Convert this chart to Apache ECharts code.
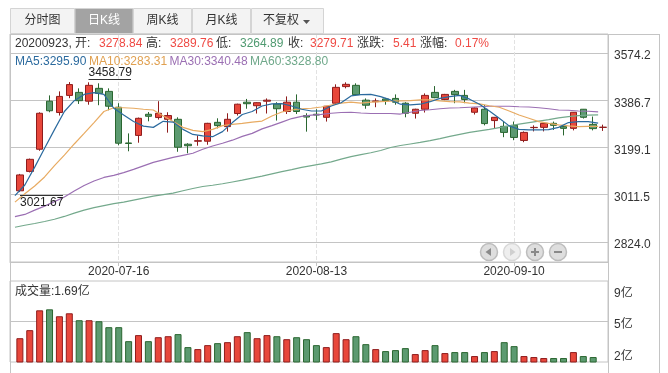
<!DOCTYPE html>
<html><head><meta charset="utf-8">
<style>html,body{margin:0;padding:0;background:#fff}#c{width:668px;height:373px}</style>
<script src="https://cdn.jsdelivr.net/npm/echarts@6/dist/echarts.min.js"></script>
</head><body><div id="c"></div>
<script>
const dates=['2020-07-02','2020-07-03','2020-07-06','2020-07-07','2020-07-08','2020-07-09','2020-07-10','2020-07-13','2020-07-14','2020-07-15','2020-07-16','2020-07-17','2020-07-20','2020-07-21','2020-07-22','2020-07-23','2020-07-24','2020-07-27','2020-07-28','2020-07-29','2020-07-30','2020-07-31','2020-08-03','2020-08-04','2020-08-05','2020-08-06','2020-08-07','2020-08-10','2020-08-11','2020-08-12','2020-08-13','2020-08-14','2020-08-17','2020-08-18','2020-08-19','2020-08-20','2020-08-21','2020-08-24','2020-08-25','2020-08-26','2020-08-27','2020-08-28','2020-08-31','2020-09-01','2020-09-02','2020-09-03','2020-09-04','2020-09-07','2020-09-08','2020-09-09','2020-09-10','2020-09-11','2020-09-14','2020-09-15','2020-09-16','2020-09-17','2020-09-18','2020-09-21','2020-09-22','2020-09-23'];
const open=[3027,3104,3192,3383,3338,3406,3418,3383,3434,3422,3359,3217,3247,3331,3318,3311,3311,3212,3224,3224,3299,3282,3334,3379,3365,3383,3372,3342,3379,3326,3331,3319,3375,3441,3446,3387,3381,3392,3394,3375,3335,3351,3418,3390,3422,3406,3339,3351,3306,3283,3287,3227,3278,3279,3295,3282,3275,3351,3291,3278.84];
const close=[3090,3152,3335,3345,3402,3449,3385,3446,3414,3363,3216,3215,3315,3323,3335,3326,3200,3206,3226,3295,3286,3311,3371,3373,3377,3387,3353,3379,3342,3320,3328,3363,3438,3450,3409,3367,3384,3385,3379,3335,3351,3406,3397,3410,3409,3390,3356,3294,3319,3259,3239,3259,3279,3295,3287,3275,3339,3319,3274,3279.71];
const low=[3021.67,3100,3186,3339,3326,3395,3372,3369,3367,3347,3208,3184,3218,3303,3310,3258,3182,3176,3206,3210,3275,3262,3326,3353,3334,3334,3306,3332,3332,3262,3308,3302,3372,3434,3406,3353,3359,3369,3369,3319,3314,3338,3395,3387,3375,3375,3330,3287,3274,3240,3228,3220,3263,3263,3269,3247,3267,3314,3267,3264.89];
const high=[3094,3155,3339,3406,3422,3458.79,3434,3458,3454,3434,3375,3255,3318,3340,3383,3339,3319,3216,3247,3297,3315,3335,3373,3392,3379,3394,3379,3402,3410,3335,3351,3364,3450,3458,3454,3394,3394,3396,3410,3379,3353,3414,3443,3412,3428,3428,3358,3368,3320,3302,3302,3263,3287,3298,3302,3287,3340,3352,3322,3289.76];
const ma5=[3008,3050,3121,3196,3270,3342,3385,3410,3417,3410,3355,3328,3302,3284,3279,3303,3300,3271,3251,3245,3242,3262,3298,3330,3342,3364,3372,3373,3364,3351,3344,3344,3364,3377,3404,3409,3410,3401,3388,3371,3368,3371,3381,3394,3401,3406,3391,3371,3344,3315,3285,3271,3269,3269,3270,3279,3298,3302,3302,3295.9];
const ma10=[2982,3015,3046,3082,3127,3169,3213,3255,3298,3342,3357,3357,3355,3351,3348,3324,3302,3279,3267,3262,3271,3286,3291,3295,3300,3304,3324,3340,3348,3353,3355,3360,3368,3375,3379,3375,3379,3381,3383,3384,3385,3388,3388,3384,3381,3380,3375,3372,3365,3359,3344,3328,3315,3302,3295,3289,3285,3282,3283,3283.31];
const ma30=[2924,2933,2950,2966,2984,3002,3026,3048,3066,3080,3088,3099,3112,3126,3140,3150,3160,3168,3176,3192,3205,3216,3228,3243,3255,3273,3286,3300,3314,3323,3328,3331,3335,3338,3339,3336,3334,3334,3334,3332,3339,3346,3349,3353,3356,3357,3359,3361,3363,3363,3363,3361,3360,3357,3353,3348,3347,3344,3343,3340.48];
const ma60=[2882,2890,2897,2905,2914,2925,2938,2950,2960,2968,2976,2982,2990,2998,3006,3012,3018,3027,3036,3044,3049,3055,3062,3069,3077,3085,3094,3103,3111,3120,3127,3134,3142,3153,3163,3171,3178,3187,3199,3207,3213,3219,3226,3234,3243,3251,3259,3265,3271,3278,3285,3292,3298,3304,3310,3317,3322,3326,3328,3328.8];
const volume=[3.81,4.54,6.34,6.43,5.80,6.07,5.44,5.44,5.35,4.81,4.81,3.54,4.09,3.54,3.90,3.99,4.18,3.00,2.82,3.18,3.36,3.45,3.99,4.36,3.81,4.09,3.99,3.72,3.90,3.72,3.18,3.00,4.27,3.72,3.99,3.27,2.82,2.64,2.73,2.91,2.37,2.73,3.18,2.46,2.55,2.55,2.19,2.55,2.64,3.45,3.09,2.19,2.10,2.01,2.01,2.01,2.55,2.19,2.10,1.69];
const priceTicks=[2824.0,3011.5,3199.1,3386.7,3574.2];
const volumeTicks=[1.65,5.325,9.0];
const dateTicks=[10,30,50];
const tabs=['分时图','日K线','周K线','月K线','不复权'];

const FONT='"Liberation Sans","Noto Sans CJK SC",sans-serif';
const RED='#e8473b',REDB='#8f1c1c',GRN='#5c9a70',GRNB='#2a6630';
const LINE='#c4c4c4',MA5='#2b6a9e',MA10='#e8ab62',MA30='#9b6fb3',MA60='#74a98c';
const XMIN=-1,XMAX=59.5;
const candle=dates.map((d,i)=>[i,open[i],close[i],low[i],high[i]]);
const pts=a=>a.map((v,i)=>[i,v]);
const lineSeries=(name,a,color)=>({name,type:'line',xAxisIndex:1,yAxisIndex:0,data:pts(a),symbol:'none',silent:true,z:5,lineStyle:{color,width:1.2}});
const T=(x,y,text,fill,extra)=>({type:'text',x,y,z:20,silent:true,style:Object.assign({text,fill:fill||'#333',font:'12px '+FONT,textVerticalAlign:'middle'},extra||{})});
const infoRow=[[15,'20200923, 开:','#333'],[99,'3278.84','#ef4a44'],[146,'高:','#333'],[170,'3289.76','#ef4a44'],[216,'低:','#333'],[240,'3264.89','#4f9a70'],[288,'收:','#333'],[310,'3279.71','#ef4a44'],[357,'涨跌:','#333'],[393,'5.41','#ef4a44'],[420,'涨幅:','#333'],[455,'0.17%','#ef4a44']];
const maRow=[[15,'MA5:3295.90','#2b6a9e'],[89,'MA10:3283.31','#e0a050'],[169.5,'MA30:3340.48','#9b6fb3'],[250,'MA60:3328.80','#6fa88a']];
const tabX=[[10.5,64],[75,58],[133.5,58],[192.5,58],[251.5,72]];
const btn=(cx,dim)=>({type:'circle',shape:{cx,cy:252,r:8.5},z:20,silent:true,style:{fill:dim?'#eeeeee':'#dedede',stroke:dim?'#d8d8d8':'#bdbdbd',lineWidth:1.5}});
const vline=(x,y1,y2)=>({type:'line',shape:{x1:x,y1,x2:x,y2},z:1,silent:true,style:{stroke:LINE,lineWidth:1}});
const glyph='#8a8a8a';
const graphic=[
 vline(10.5,34,373),vline(608.5,34,373),vline(659.5,34,373),
 {type:'line',shape:{x1:10,y1:34.5,x2:660,y2:34.5},z:1,silent:true,style:{stroke:LINE}},
 ...tabs.map((t,i)=>({type:'rect',shape:{x:tabX[i][0],y:8.5,width:tabX[i][1],height:25},z:18,silent:true,style:{fill:i==1?'#a3a3a3':'#f3f3f3',stroke:'#d4d4d4'}})),
 ...tabs.map((t,i)=>T(i==4?281:tabX[i][0]+tabX[i][1]/2,21,t,i==1?'#fff':'#333',{textAlign:'center'})),
 {type:'polygon',shape:{points:[[303,20],[310,20],[306.5,24]]},z:21,silent:true,style:{fill:'#555'}},
 ...infoRow.map(r=>T(r[0],44,r[1],r[2])),
 ...maRow.map(r=>T(r[0],62,r[1],r[2])),
 T(15,292,'成交量:1.69亿','#333'),
 T(88.5,73,'3458.79','#222'),
 {type:'line',shape:{x1:88.5,y1:79.5,x2:131,y2:79.5},z:20,silent:true,style:{stroke:'#333',lineWidth:1}},
 T(20,203,'3021.67','#222'),
 {type:'line',shape:{x1:20,y1:195.5,x2:63,y2:195.5},z:20,silent:true,style:{stroke:'#333',lineWidth:1}},
 btn(489),btn(512,true),btn(535),btn(558),
 {type:'polygon',shape:{points:[[485.5,252],[491,248],[491,256]]},z:21,silent:true,style:{fill:glyph}},
 {type:'polygon',shape:{points:[[515.5,252],[510,248],[510,256]]},z:21,silent:true,style:{fill:'#cfcfcf'}},
 {type:'rect',shape:{x:531,y:251,width:8,height:2},z:21,silent:true,style:{fill:glyph}},
 {type:'rect',shape:{x:534,y:248,width:2,height:8},z:21,silent:true,style:{fill:glyph}},
 {type:'rect',shape:{x:554,y:251,width:8,height:2},z:21,silent:true,style:{fill:glyph}}
];
const rightLabel={color:'#333',fontSize:12,fontFamily:FONT,margin:6};
const chart=echarts.init(document.getElementById('c'),null,{renderer:'canvas'});
chart.setOption({
 animation:false,backgroundColor:'#fff',
 grid:[
  {left:10,right:60,top:34,height:228,show:true,borderColor:LINE,borderWidth:1,containLabel:false},
  {left:10,right:60,top:281,height:81,show:true,borderColor:LINE,borderWidth:1,containLabel:false}
 ],
 xAxis:[
  {type:'value',gridIndex:0,min:XMIN,max:XMAX,
   axisLine:{lineStyle:{color:LINE}},
   axisTick:{show:true,length:4,customValues:dateTicks,lineStyle:{color:LINE}},
   axisLabel:{customValues:dateTicks,color:'#333',fontSize:12,fontFamily:FONT,margin:4,formatter:v=>dates[v]},
   splitLine:{show:true,lineStyle:{color:'#e2e2e2',type:'dashed'}}},
  {type:'value',gridIndex:0,min:XMIN+0.5,max:XMAX+0.5,show:false,splitLine:{show:false}},
  {type:'value',gridIndex:1,min:XMIN,max:XMAX,show:false,splitLine:{show:false}}
 ],
 yAxis:[
  {type:'value',gridIndex:0,position:'right',min:2744,max:3650,
   axisLine:{show:false},
   axisTick:{show:true,length:4,customValues:priceTicks,lineStyle:{color:LINE}},
   axisLabel:Object.assign({customValues:priceTicks,formatter:v=>'{p|'+v.toFixed(1)+'}',
    rich:{p:{padding:[6,0,0,0],fontSize:12,color:'#333',fontFamily:FONT}}},rightLabel),
   splitLine:{show:true,lineStyle:{color:LINE}}},
  {type:'value',gridIndex:1,position:'right',min:volumeTicks[0],max:volumeTicks[2],
   axisLine:{show:false},
   axisTick:{show:true,length:4,customValues:[volumeTicks[1]],lineStyle:{color:LINE}},
   axisLabel:Object.assign({customValues:volumeTicks,
    formatter:v=>{const k=v===volumeTicks[2]?'a':v===volumeTicks[0]?'c':'b';return '{'+k+'|'+Math.round(v)+'亿}';},
    rich:{a:{padding:[26,0,0,0],fontSize:12,color:'#333',fontFamily:FONT},b:{padding:[6,0,0,0],fontSize:12,color:'#333',fontFamily:FONT},c:{padding:[0,0,11,0],fontSize:12,color:'#333',fontFamily:FONT}}},rightLabel),
   splitLine:{show:true,lineStyle:{color:LINE}}}
 ],
 series:[
  {type:'candlestick',xAxisIndex:0,yAxisIndex:0,barWidth:7,data:candle,encode:{x:0,y:[1,2,3,4]},z:3,silent:true,
   itemStyle:{color:RED,color0:GRN,borderColor:REDB,borderColor0:GRNB,borderWidth:1}},
  lineSeries('MA60',ma60,MA60),lineSeries('MA30',ma30,MA30),lineSeries('MA10',ma10,MA10),lineSeries('MA5',ma5,MA5),
  {type:'bar',xAxisIndex:2,yAxisIndex:1,barWidth:7,silent:true,z:3,
   data:volume.map((v,i)=>({value:[i,v],itemStyle:{color:close[i]>=open[i]?RED:GRN,borderColor:close[i]>=open[i]?REDB:GRNB,borderWidth:1}}))}
 ],
 graphic
});
</script></body></html>
